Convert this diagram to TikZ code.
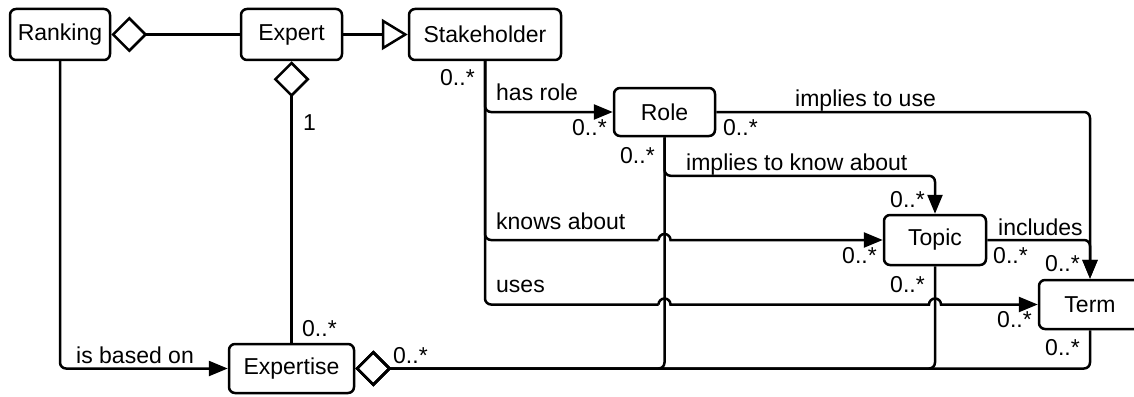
\documentclass[tikz,border=0pt]{standalone}
\usepackage{fontspec}
\setmainfont{Liberation Sans}
\usetikzlibrary{arrows.meta,calc}
\begin{document}
\begin{tikzpicture}[x=1pt,y=1pt,
  box/.style={draw,rounded corners=6pt,line width=2.5pt,inner sep=0pt,font=\fontsize{23}{27}\selectfont},
  conn/.style={line width=2.5pt,rounded corners=6pt},
  lbl/.style={inner sep=0pt,anchor=base west,font=\fontsize{23}{27}\selectfont},
  tri/.style={-{Triangle[length=19pt,width=15pt]}},
  assoc/.style={conn,tri},
  agg/.style={conn,{Diamond[open,length=36pt,width=36pt]}-},
  gen/.style={conn,-{Triangle[open,length=26pt,width=31pt]}},
  hop/.style={line width=2.5pt,sharp corners},
]
\useasboundingbox (0,0) rectangle (1134,-396);
% classes
\node[box,minimum width=100pt,minimum height=51pt] (ranking) at (60,-34.5) {Ranking};
\node[box,minimum width=101pt,minimum height=51pt] (expert) at (291.5,-34.5) {Expert};
\node[box,minimum width=152pt,minimum height=51pt] (stake) at (485,-34.5) {Stakeholder};
\node[box,minimum width=101pt,minimum height=48pt] (role) at (664.5,-112) {Role};
\node[box,minimum width=102pt,minimum height=50pt] (topic) at (935,-240) {Topic};
\node[box,minimum width=102pt,minimum height=49pt] (term) at (1090,-304.5) {Term};
\node[box,minimum width=125pt,minimum height=49pt] (expertise) at (291.5,-368.5) {Expertise};
% hop points
\coordinate (k1) at ($(role.south |- topic.west)+(-6,0)$);
\coordinate (u1) at ($(role.south |- term.west)+(-6,0)$);
\coordinate (u2) at ($(topic.south |- term.west)+(-6,0)$);
% connectors
\draw[agg] (ranking.east) -- (expert.west);
\draw[gen] (expert.east) -- (stake.west);
\draw[agg] (expert.south) -- (expertise.north);
\draw[assoc] (ranking.south) |- (expertise.west);
\draw[assoc] (stake.south) |- (role.west);
\draw[conn] (stake.south) |- (k1);
\draw[hop,tri] (k1) arc[start angle=180,end angle=0,radius=6] -- (topic.west);
\draw[conn] (stake.south) |- (u1);
\draw[hop,tri] (u1) arc[start angle=180,end angle=0,radius=6] -- (u2)
  arc[start angle=180,end angle=0,radius=6] -- (term.west);
\draw[assoc] (role.east) -| (term.north);
\draw[assoc] (role.south) |- ($(topic.north)+(0,38)$) -- (topic.north);
\draw[assoc] (topic.east) -| (term.north);
\draw[agg] (expertise.east) -| (role.south);
\draw[agg] (expertise.east) -| (topic.south);
\draw[agg] (expertise.east) -| (term.south);
% labels
\node[lbl] (l1) at (303,-130) {1};
\node[lbl] (l2) at (440,-85) {0..*};
\node[lbl] (l3) at (496,-100) {has role};
\node[lbl] (l4) at (572,-135) {0..*};
\node[lbl] (l5) at (723,-135) {0..*};
\node[lbl] (l6) at (795,-106) {implies to use};
\node[lbl] (l7) at (620,-163) {0..*};
\node[lbl] (l8) at (686,-170) {implies to know about};
\node[lbl] (l9) at (890,-207) {0..*};
\node[lbl] (l10) at (496,-229) {knows about};
\node[lbl] (l11) at (842,-263) {0..*};
\node[lbl] (l12) at (998,-235) {includes};
\node[lbl] (l13) at (993,-263) {0..*};
\node[lbl] (l14) at (1045,-271) {0..*};
\node[lbl] (l15) at (890,-292) {0..*};
\node[lbl] (l16) at (496,-292) {uses};
\node[lbl] (l17) at (997,-327) {0..*};
\node[lbl] (l18) at (1045,-355) {0..*};
\node[lbl] (l19) at (393,-363) {0..*};
\node[lbl] (l20) at (302,-336) {0..*};
\node[lbl] (l21) at (76,-363) {is based on};
\end{tikzpicture}
\end{document}
